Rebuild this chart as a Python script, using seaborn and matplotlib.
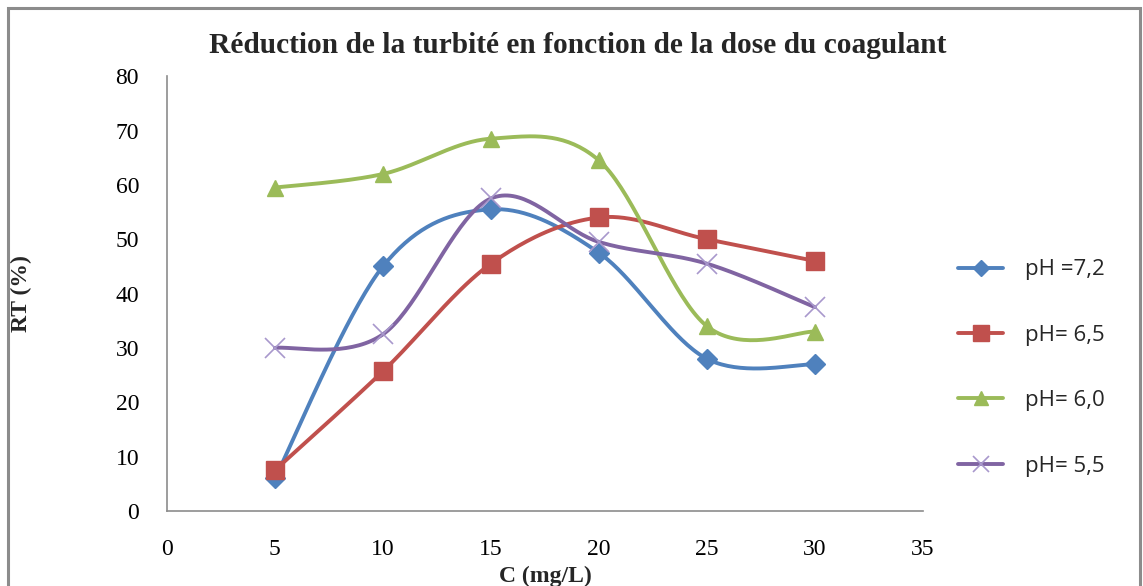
import numpy as np
import pandas as pd
import matplotlib
matplotlib.use("Agg")
import matplotlib.pyplot as plt
import seaborn as sns
from matplotlib.patches import Rectangle
from matplotlib.lines import Line2D

# ---- data ----
doses = [5, 10, 15, 20, 25, 30]
ph72 = [6.0, 45.0, 55.5, 47.5, 28.0, 27.0]
ph65 = [7.5, 25.7, 45.5, 54.0, 50.0, 46.0]
ph60 = [59.5, 62.0, 68.5, 64.5, 34.0, 33.0]
ph55 = [30.0, 32.5, 57.5, 49.5, 45.5, 37.5]
labels = ["pH =7,2", "pH= 6,5", "pH= 6,0", "pH= 5,5"]
series = [ph72, ph65, ph60, ph55]
colors = ["#4F81BD", "#C0504D", "#9BBB59", "#8064A2"]
markers = ["D", "s", "^", "x"]
msizes = [10, 13, 12, 15]
xticks = [0, 5, 10, 15, 20, 25, 30, 35]
yticks = [0, 10, 20, 30, 40, 50, 60, 70, 80]


def smooth(x, y, n=40):
    # Excel-like smoothed line: cubic Bezier with Catmull-Rom control points
    x = np.asarray(x, float); y = np.asarray(y, float)
    P = np.column_stack([x, y])
    out = []
    m = len(P)
    for i in range(m - 1):
        p0 = P[i - 1] if i > 0 else P[i]
        p1 = P[i]; p2 = P[i + 1]
        p3 = P[i + 2] if i + 2 < m else P[i + 1]
        c1 = p1 + (p2 - p0) / 6.0
        c2 = p2 - (p3 - p1) / 6.0
        t = np.linspace(0, 1, n)[:, None]
        seg = (1 - t) ** 3 * p1 + 3 * (1 - t) ** 2 * t * c1 + 3 * (1 - t) * t ** 2 * c2 + t ** 3 * p2
        out.append(seg if i == 0 else seg[1:])
    out = np.vstack(out)
    return out[:, 0], out[:, 1]


sns.set_theme(style="white")
plt.rcParams["font.family"] = ["Liberation Serif", "DejaVu Serif"]

fig = plt.figure(figsize=(11.43, 5.86), dpi=100)
ax = fig.add_axes([0.146, 0.128, 0.6615, 0.742])

for vals, lab, c, mk, ms in zip(series, labels, colors, markers, msizes):
    sx, sy = smooth(doses, vals)
    df = pd.DataFrame({"x": sx, "y": sy})
    sns.lineplot(data=df, x="x", y="y", sort=False, estimator=None, color=c,
                 linewidth=2.8, ax=ax, legend=False)
    if mk == "x":
        ax.plot(doses, vals, linestyle="none", marker=mk, markersize=ms,
                markeredgecolor="#A898CC", markeredgewidth=1.2, zorder=3)
    else:
        ax.plot(doses, vals, linestyle="none", marker=mk, markersize=ms,
                color=c, markeredgecolor=c, zorder=3)

# legend handles
handles = []
lsizes = [8, 11, 10, 12]
for lab, c, mk, ms in zip(labels, colors, markers, lsizes):
    if mk == "x":
        h = Line2D([], [], color=c, linewidth=2.8, marker=mk, markersize=ms,
                   markeredgecolor="#A898CC", markeredgewidth=1.2)
    else:
        h = Line2D([], [], color=c, linewidth=2.8, marker=mk, markersize=ms,
                   markerfacecolor=c, markeredgecolor=c)
    handles.append(h)
leg = fig.legend(handles, labels, loc="center left", bbox_to_anchor=(0.821, 0.372),
                 frameon=False, labelspacing=2.0, handlelength=2.0, handletextpad=1.0,
                 prop={"family": "Open Sans", "size": 16})

ax.set_xlim(0, 35)
ax.set_ylim(0, 80)
ax.set_xticks(xticks)
ax.set_yticks(yticks)
ax.set_xticklabels([str(v) for v in xticks], fontsize=17)
ax.set_yticklabels([str(v) for v in yticks], fontsize=17)
for s in ["top", "right"]:
    ax.spines[s].set_visible(False)
for s in ["left", "bottom"]:
    ax.spines[s].set_color("#8C8C8C")
    ax.spines[s].set_linewidth(1.2)
ax.tick_params(axis="both", direction="out", length=6, width=1.2, color="#8C8C8C",
               labelcolor="black")
ax.tick_params(axis="x", pad=14)
ax.tick_params(axis="y", pad=14)
ax.grid(False)

ax.set_ylabel("RT (%)", fontsize=17, fontweight="bold")
ax.yaxis.set_label_coords(-0.178, 0.5)
ax.set_xlabel("C (mg/L)", fontsize=17, fontweight="bold", labelpad=4)
fig.text(0.505, 0.922, "Réduction de la turbité en fonction de la dose du coagulant",
         ha="center", va="center", fontsize=21.2, fontweight="bold")

# outer chart border
fig.patches.append(Rectangle((8 / 1143, -0.05), (1140 - 8) / 1143, 1.05 - 8 / 586,
                             transform=fig.transFigure, fill=False,
                             edgecolor="#8C8C8C", linewidth=2.2))

fig.savefig("out.png", dpi=100)
